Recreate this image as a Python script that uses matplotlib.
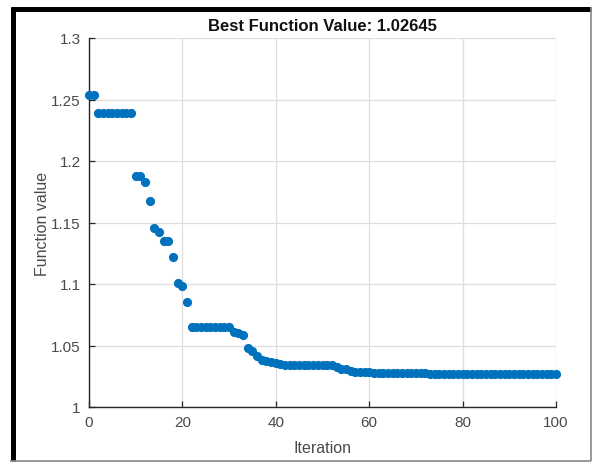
import matplotlib
matplotlib.use("Agg")
import matplotlib.pyplot as plt
from matplotlib.ticker import FormatStrFormatter
from matplotlib.lines import Line2D

plt.rcParams['font.family'] = ['Liberation Sans', 'DejaVu Sans']

iterations = list(range(0, 101))
values = (
    [1.2537, 1.2537]
    + [1.2388] * 8
    + [1.1876, 1.1876, 1.1827, 1.1675, 1.1453, 1.1420, 1.1352, 1.1352,
       1.1222, 1.1006, 1.0981, 1.0856]
    + [1.0648] * 9
    + [1.0607, 1.0602, 1.0585, 1.0480, 1.0458, 1.0417, 1.0385, 1.0376,
       1.0368, 1.0358, 1.0350]
    + [1.0338] * 11
    + [1.0328, 1.0312, 1.0308, 1.0296]
    + [1.0288] * 4
    + [1.0280] * 12
    + [1.02645] * 28
)
best_value = 1.02645
x_ticks = [0, 20, 40, 60, 80, 100]
y_ticks = [1, 1.05, 1.1, 1.15, 1.2, 1.25, 1.3]

W, H = 593, 464
fig = plt.figure(figsize=(W / 100, H / 100), dpi=100)
ax = fig.add_axes([89 / W, 1 - 408 / H, (556 - 89) / W, (408 - 39) / H])

ax.plot(iterations, values, linestyle='none', marker='o', markersize=6.6,
        color='#0072BD', markeredgewidth=0, zorder=3, clip_on=False)

ax.set_xlim(0, 100)
ax.set_ylim(1, 1.3)
ax.set_xticks(x_ticks)
ax.set_yticks(y_ticks)
ax.yaxis.set_major_formatter(FormatStrFormatter('%g'))
ax.grid(True, color='#dedede', linewidth=0.9)
ax.set_axisbelow(True)
for s in ['top', 'right']:
    ax.spines[s].set_visible(False)
for s in ['left', 'bottom']:
    ax.spines[s].set_color('#262626')
    ax.spines[s].set_linewidth(1.0)
ax.tick_params(direction='in', length=4, width=0.9, colors='#262626',
               labelcolor='#4a4a4a', labelsize=11, pad=6)

ax.set_title('Best Function Value: %g' % best_value, fontsize=12,
             fontweight='bold', color='#111111', pad=6)
ax.set_xlabel('Iteration', fontsize=11.5, color='#4a4a4a', labelpad=8)
ax.set_ylabel('Function value', fontsize=11.5, color='#4a4a4a', labelpad=1)

# screenshot frame
kw = dict(transform=fig.transFigure, solid_capstyle='butt')
fig.add_artist(Line2D([12.5 / W, 12.5 / W], [1 - 7.5 / H, 1 - 462 / H],
                      color='black', linewidth=3.6, **kw))
fig.add_artist(Line2D([10.7 / W, 591 / W], [1 - 9.5 / H, 1 - 9.5 / H],
                      color='black', linewidth=3.6, **kw))
fig.add_artist(Line2D([591 / W, 591 / W], [1 - 8 / H, 1 - 462 / H],
                      color='#888888', linewidth=1.2, **kw))
fig.add_artist(Line2D([10 / W, 591 / W], [1 - 461.5 / H, 1 - 461.5 / H],
                      color='#888888', linewidth=1.2, **kw))

fig.savefig('out.png', dpi=100)
